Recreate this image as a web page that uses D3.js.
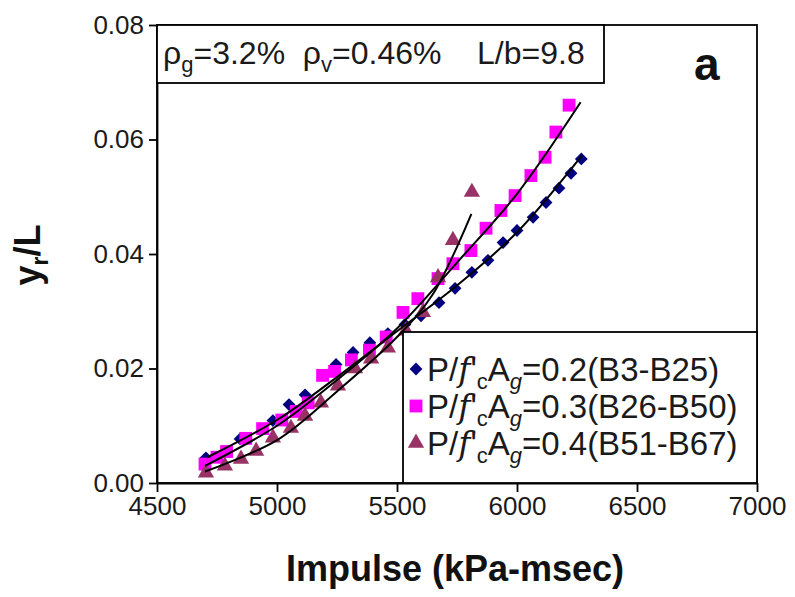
<!DOCTYPE html>
<html lang="en">
<head>
    <meta charset="UTF-8">
    <title>Impulse vs yr/L</title>
    <script src="https://d3js.org/d3.v7.min.js"></script>
    <style>
        body {
            margin: 0;
            padding: 0;
            background-color: #fff;
        }
        svg {
            font-family: Arial, 'Liberation Sans', sans-serif;
        }
        .axis text {
            font-size: 26px;
            fill: #1a1a1a;
        }
        .axis path, .axis line {
            stroke: #000;
            stroke-width: 1.8px;
        }
        .fit {
            fill: none;
            stroke: #000;
            stroke-width: 2px;
        }
        .title {
            font-weight: bold;
            font-size: 36px;
            fill: #111;
        }
    </style>
</head>
<body>
    <svg width="795" height="597"></svg>
    <script>
        // ticks
        const xTicks = [4500, 5000, 5500, 6000, 6500, 7000];
        const yTicks = [0, 0.02, 0.04, 0.06, 0.08];

        // P/f'cAg = 0.2 (B3-B25)
        const blueX = [4704, 4846, 4983, 5050, 5117, 5246, 5317, 5387, 5462, 5533, 5600,
                       5675, 5742, 5812, 5879, 5942, 6000, 6067, 6121, 6175, 6225, 6268];
        const blueY = [0.0044, 0.0077, 0.0109, 0.0137, 0.0154, 0.0207, 0.0228, 0.0245, 0.0261, 0.0277, 0.0292,
                       0.0315, 0.0340, 0.0368, 0.0389, 0.0420, 0.0441, 0.0464, 0.0490, 0.0515, 0.0541, 0.0566];
        // P/f'cAg = 0.3 (B26-B50)
        const pinkX = [4700, 4750, 4790, 4870, 4940, 5020, 5080, 5130, 5190, 5240, 5310, 5385, 5455,
                       5525, 5587, 5671, 5733, 5808, 5871, 5933, 5992, 6058, 6117, 6162, 6217];
        const pinkY = [0.0033, 0.0045, 0.0055, 0.0078, 0.0095, 0.0110, 0.0125, 0.0140, 0.0188, 0.0195, 0.0215, 0.0232, 0.0255,
                       0.0298, 0.0322, 0.0357, 0.0383, 0.0406, 0.0445, 0.0476, 0.0502, 0.0537, 0.0569, 0.0613, 0.0660];
        // P/f'cAg = 0.4 (B51-B67)
        const purpX = [4704, 4783, 4850, 4913, 4983, 5058, 5117, 5183, 5254, 5325, 5392, 5462,
                       5537, 5608, 5671, 5733, 5812];
        const purpY = [0.0018, 0.0030, 0.0042, 0.0056, 0.0079, 0.0096, 0.0117, 0.0140, 0.0170, 0.0200, 0.0217, 0.0236,
                       0.0266, 0.0298, 0.0359, 0.0424, 0.0508];

        // fitted trend lines
        const blueFitX = [4710, 5000, 5250, 5500, 5750, 6000, 6270];
        const blueFitY = [0.0045, 0.0110, 0.0185, 0.0265, 0.0345, 0.0438, 0.0572];
        const pinkFitX = [4700, 5000, 5250, 5500, 5750, 6000, 6265];
        const pinkFitY = [0.0030, 0.0100, 0.0180, 0.0270, 0.0385, 0.0505, 0.0665];
        const purpFitX = [4700, 5000, 5250, 5500, 5650, 5810];
        const purpFitY = [0.0020, 0.0075, 0.0160, 0.0255, 0.0330, 0.0470];

        const legendLabels = ["=0.2(B3-B25)", "=0.3(B26-B50)", "=0.4(B51-B67)"];

        const series = [
            { xs: blueX, ys: blueY, fx: blueFitX, fy: blueFitY, color: "#000080", shape: "diamond" },
            { xs: pinkX, ys: pinkY, fx: pinkFitX, fy: pinkFitY, color: "#ff00ff", shape: "square" },
            { xs: purpX, ys: purpY, fx: purpFitX, fy: purpFitY, color: "#993366", shape: "triangle" }
        ];

        const plotLeft = 157, plotRight = 757, plotTop = 25, plotBottom = 483;
        const svg = d3.select("svg");

        const x = d3.scaleLinear().domain([4500, 7000]).range([plotLeft, plotRight]);
        const y = d3.scaleLinear().domain([0, 0.08]).range([plotBottom, plotTop]);

        function symbolPath(shape) {
            if (shape === "diamond") return d3.symbol(d3.symbolSquare, 82)();
            if (shape === "square") return d3.symbol(d3.symbolSquare, 165)();
            return d3.symbol(d3.symbolTriangle, 115)();
        }
        function symbolTransform(shape, px, py) {
            if (shape === "diamond") return `translate(${px},${py}) rotate(45)`;
            return `translate(${px},${py})`;
        }

        // markers first, fit lines on top
        series.forEach(s => {
            svg.append("g").selectAll("path")
                .data(s.xs.map((v, i) => [v, s.ys[i]]))
                .enter()
                .append("path")
                .attr("d", symbolPath(s.shape))
                .attr("transform", d => symbolTransform(s.shape, x(d[0]), y(d[1])))
                .attr("fill", s.color);
        });

        const line = d3.line()
            .x(d => x(d[0]))
            .y(d => y(d[1]))
            .curve(d3.curveCatmullRom);

        series.forEach(s => {
            svg.append("path")
                .attr("class", "fit")
                .attr("d", line(s.fx.map((v, i) => [v, s.fy[i]])));
        });

        // axes
        svg.append("g")
            .attr("class", "axis")
            .attr("transform", `translate(0,${plotBottom})`)
            .call(d3.axisBottom(x).tickValues(xTicks).tickSize(9).tickPadding(5).tickSizeOuter(0).tickFormat(d3.format("d")));

        svg.append("g")
            .attr("class", "axis")
            .attr("transform", `translate(${plotLeft},0)`)
            .call(d3.axisLeft(y).tickValues(yTicks).tickSize(8).tickPadding(5).tickSizeOuter(0).tickFormat(d3.format(".2f")));

        // plot frame
        svg.append("rect")
            .attr("x", plotLeft).attr("y", plotTop)
            .attr("width", plotRight - plotLeft).attr("height", plotBottom - plotTop)
            .attr("fill", "none").attr("stroke", "#000").attr("stroke-width", 1.8);

        // parameter box
        svg.append("rect")
            .attr("x", plotLeft).attr("y", plotTop)
            .attr("width", 447).attr("height", 58)
            .attr("fill", "#fff").attr("stroke", "#000").attr("stroke-width", 1.8);

        const info = svg.append("text")
            .attr("x", 163).attr("y", 64)
            .attr("font-size", 32)
            .attr("fill", "#1a1a1a")
            .style("white-space", "pre");
        info.append("tspan").text("\u03C1");
        info.append("tspan").attr("font-size", 22).attr("dy", 8).text("g");
        info.append("tspan").attr("dy", -8).text("=3.2%  \u03C1");
        info.append("tspan").attr("font-size", 22).attr("dy", 8).text("v");
        info.append("tspan").attr("dy", -8).text("=0.46%    L/b=9.8");

        svg.append("text")
            .attr("x", 694).attr("y", 80)
            .attr("font-size", 46)
            .attr("font-weight", "bold")
            .attr("fill", "#111")
            .text("a");

        // legend
        svg.append("rect")
            .attr("x", 403).attr("y", 332)
            .attr("width", plotRight - 403).attr("height", plotBottom - 332)
            .attr("fill", "#fff").attr("stroke", "#000").attr("stroke-width", 1.8);

        series.forEach((s, i) => {
            const ly = 369 + i * 37;
            svg.append("path")
                .attr("d", symbolPath(s.shape))
                .attr("transform", symbolTransform(s.shape, 416, ly))
                .attr("fill", s.color);
            const t = svg.append("text")
                .attr("x", 427).attr("y", ly + 12)
                .attr("font-size", 33)
                .attr("fill", "#1a1a1a");
            t.append("tspan").text("P/");
            t.append("tspan").attr("font-style", "italic").attr("font-family", "'DejaVu Serif', serif").text("f");
            t.append("tspan").text("'");
            t.append("tspan").attr("font-size", 22).attr("dy", 8).text("c");
            t.append("tspan").attr("dy", -8).text("A");
            t.append("tspan").attr("font-size", 22).attr("font-style", "italic").attr("dy", 8).text("g");
            t.append("tspan").attr("dy", -8).text(legendLabels[i]);
        });

        // axis titles
        svg.append("text")
            .attr("class", "title")
            .attr("x", 455).attr("y", 581)
            .attr("text-anchor", "middle")
            .text("Impulse (kPa-msec)");

        const yl = svg.append("text")
            .attr("class", "title")
            .attr("transform", "translate(40,255) rotate(-90)")
            .attr("text-anchor", "middle");
        yl.append("tspan").text("y");
        yl.append("tspan").attr("font-size", 23).attr("dy", 8).text("r");
        yl.append("tspan").attr("dy", -8).text("/L");
    </script>
</body>
</html>
